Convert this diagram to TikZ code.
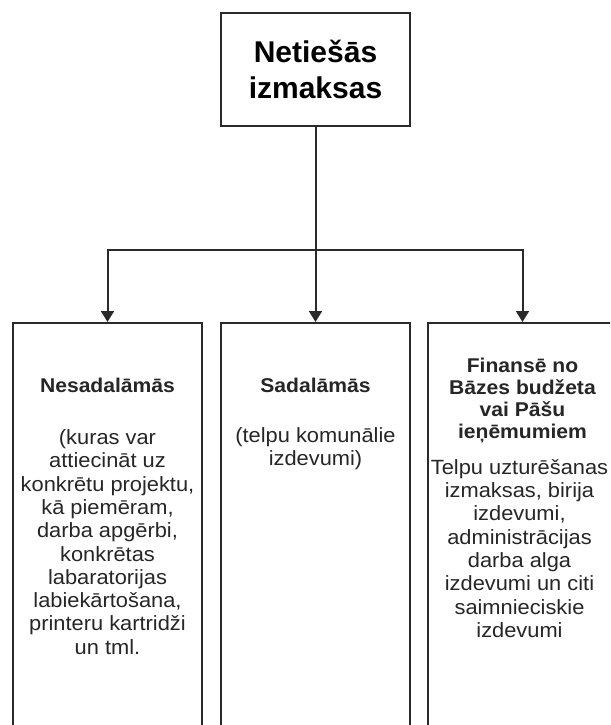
\documentclass[tikz,border=0pt]{standalone}
\usepackage{fontspec}
\setmainfont{Liberation Sans}
\newfontfamily\smfont[FakeStretch=1.06]{Liberation Sans}
\usetikzlibrary{arrows.meta}
\definecolor{edge}{HTML}{2A2A2A}
\definecolor{txt}{HTML}{262626}
\begin{document}
\begin{tikzpicture}[x=1pt,y=-1pt,
  topbox/.style={draw=edge, line width=2.5pt, fill=white, minimum width=189pt, minimum height=113pt,
    inner sep=0pt, align=center, text=black, font=\fontsize{30}{36.5}\selectfont\bfseries},
  catbox/.style={draw=edge, line width=2pt, fill=white, minimum width=189pt, minimum height=420pt,
    anchor=north, inner sep=0pt},
  ttl/.style={align=center, inner sep=0pt, text=txt, font=\smfont\fontsize{19.9}{22}\selectfont\bfseries},
  body/.style={align=center, inner sep=0pt, text=txt, font=\smfont\fontsize{20.6}{23.3}\selectfont},
  conn/.style={draw=edge, line width=2pt},
  arr/.style={-{Triangle[width=13pt,length=11pt]}}
]
\useasboundingbox (0,0) rectangle (610,725);
\clip (0,0) rectangle (610,725);

\node[topbox] (top) at (315.5,69.5) {Netiešās\\izmaksas};

\node[catbox] (nes) at (107.5,322) {};
\node[catbox] (sad) at (315.5,322) {};
\node[catbox] (fin) at (522.5,322) {};

\node[ttl] (nesT) at (107.5,385) {Nesadalāmās};
\node[body] (nesB) at (107.5,542) {(kuras var\\attiecināt uz\\konkrētu projektu,\\kā piemēram,\\darba apgērbi,\\konkrētas\\labaratorijas\\labiekārtošana,\\printeru kartridži\\un tml.};

\node[ttl] (sadT) at (315.5,385) {Sadalāmās};
\node[body] (sadB) at (315.5,448.5) {(telpu komunālie\\izdevumi)};

\node[ttl] (finT) at (522.5,400.5) {Finansē no\\Bāzes budžeta\\vai Pāšu\\ieņēmumiem};
\node[body] (finB) at (519.5,548.5) {Telpu uzturēšanas\\izmaksas, birija\\izdevumi,\\administrācijas\\darba alga\\izdevumi un citi\\saimnieciskie\\izdevumi};

\coordinate (split) at (315.5,250);
\draw[conn] (top.south) -- (split);
\draw[conn,arr] (split) -| (nes.north);
\draw[conn,arr] (split) -- (sad.north);
\draw[conn,arr] (split) -| (fin.north);
\end{tikzpicture}
\end{document}
